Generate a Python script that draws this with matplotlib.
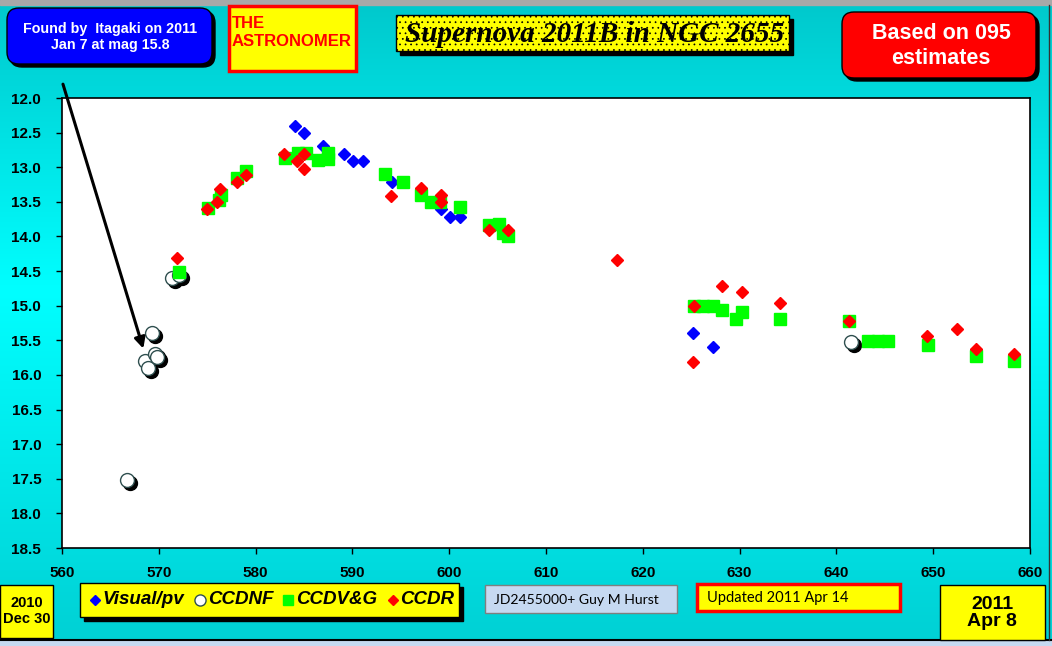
import matplotlib
matplotlib.use("Agg")
import matplotlib.pyplot as plt
import matplotlib.transforms as mtransforms
from matplotlib.patches import FancyBboxPatch, Rectangle
from matplotlib.colors import LinearSegmentedColormap
import numpy as np

# JD - 2455000, magnitude
visual_x = [584.1, 585.0, 587.0, 589.1, 590.1, 591.1, 594.1, 599.2, 600.1, 601.1, 625.2, 627.3]
visual_y = [12.40, 12.50, 12.69, 12.81, 12.91, 12.91, 13.21, 13.60, 13.72, 13.72, 15.40, 15.60]

ccdnf_x = [566.7, 568.6, 568.9, 569.3, 569.6, 569.8, 571.4, 572.1, 641.5]
ccdnf_y = [17.52, 15.80, 15.90, 15.40, 15.70, 15.74, 14.60, 14.55, 15.52]

ccdvg_x = [572.1, 575.1, 576.2, 576.4, 578.1, 579.0, 583.0, 584.4, 585.2, 586.4, 587.5, 587.5,
           593.4, 595.2, 597.1, 598.1, 599.0, 601.1, 604.1, 605.1, 605.6, 606.1,
           625.3, 626.2, 627.3, 628.2, 629.6, 630.2, 634.2, 641.3, 643.3, 644.3, 645.3,
           649.5, 654.4, 658.3]
ccdvg_y = [14.51, 13.59, 13.47, 13.40, 13.16, 13.05, 12.87, 12.80, 12.80, 12.90, 12.80, 12.88,
           13.10, 13.21, 13.40, 13.50, 13.50, 13.57, 13.83, 13.82, 13.95, 14.00,
           15.00, 15.00, 15.00, 15.06, 15.19, 15.09, 15.19, 15.22, 15.51, 15.51, 15.51,
           15.57, 15.72, 15.80]

ccdr_x = [571.9, 575.0, 576.0, 576.3, 578.1, 579.0, 582.9, 584.3, 585.0, 585.0, 594.0, 597.1,
          599.2, 599.2, 604.1, 606.1, 617.3, 625.2, 625.3, 628.2, 630.2, 634.2, 641.3,
          649.4, 652.5, 654.4, 658.3]
ccdr_y = [14.31, 13.60, 13.50, 13.31, 13.21, 13.11, 12.81, 12.91, 12.81, 13.02, 13.42, 13.30,
          13.40, 13.50, 13.90, 13.90, 14.34, 15.81, 15.00, 14.72, 14.80, 14.96, 15.22,
          15.44, 15.34, 15.63, 15.70]

x_ticks = list(range(560, 661, 10))
y_ticks = [12.0 + 0.5 * i for i in range(14)]

W, H = 1052, 646
SANS = ["Liberation Sans", "DejaVu Sans"]

fig = plt.figure(figsize=(W / 100, H / 100), dpi=100)

# background layer in pixel coordinates (y down)
bg = fig.add_axes([0, 0, 1, 1])
bg.set_xlim(0, W)
bg.set_ylim(H, 0)
bg.axis("off")
cmap = LinearSegmentedColormap.from_list(
    "turq", [(0, "#00C8CC"), (0.45, "#00FFFF"), (1, "#00D0D4")])
grad = np.linspace(0, 1, 256).reshape(-1, 1)
bg.imshow(grad, cmap=cmap, extent=[0, W, H, 0], aspect="auto", zorder=0)
bg.add_patch(Rectangle((0, 0), W, 5, color="#A8A8A8", zorder=1))
bg.add_patch(Rectangle((0, 640), W, 6, color="#C6D9F0", zorder=1))
bg.plot([0, W], [639.5, 639.5], color="black", lw=1.5, zorder=2)
bg.plot([1048.5, 1048.5], [5, 640], color="#333333", lw=1, zorder=2)


def box(x0, y0, x1, y1, fc, ec="black", lw=1.0, rnd=0, shadow=0, hatch=None):
    style = f"round,pad=0,rounding_size={rnd}" if rnd else "square,pad=0"
    if shadow:
        bg.add_patch(FancyBboxPatch((x0 + shadow, y0 + shadow), x1 - x0, y1 - y0,
                                    boxstyle=style, fc="black", ec="black", lw=lw, zorder=3))
    bg.add_patch(FancyBboxPatch((x0, y0), x1 - x0, y1 - y0, boxstyle=style,
                                fc=fc, ec=ec, lw=lw, hatch=hatch, zorder=4))


# top boxes
box(7, 8, 212, 64, "#0000FF", rnd=12, shadow=3)
bg.text(110, 37, "Found by  Itagaki on 2011\nJan 7 at mag 15.8", color="white",
        fontsize=10.3, fontweight="bold", family=SANS, ha="center", va="center",
        linespacing=1.25, zorder=5)

box(229, 6, 356, 71, "#FFFF00", ec="#FF0000", lw=2.5)
bg.text(232, 33, "THE\nASTRONOMER", color="#FF0000", fontsize=12, fontweight="bold",
        family=SANS, ha="left", va="center", linespacing=1.25, zorder=5)

plt.rcParams["hatch.linewidth"] = 0.5
box(396, 15, 789, 51, "#FFFF00", ec="black", lw=1, shadow=4, hatch="...")
bg.text(595, 35, "Supernova 2011B in NGC 2655", color="black", fontsize=21,
        fontweight="bold", style="italic", family=["Liberation Serif", "DejaVu Serif"],
        ha="center", va="center", zorder=5)

box(842, 12, 1036, 78, "#FF0000", rnd=12, shadow=3)
bg.text(941, 46, "Based on 095\nestimates", color="white", fontsize=15.5,
        fontweight="bold", family=SANS, ha="center", va="center", linespacing=1.3,
        zorder=5)

# bottom boxes
box(0, 585, 53, 638, "#FFFF00")
bg.text(27, 611, "2010\nDec 30", fontsize=10.5, fontweight="bold", family=SANS,
        ha="center", va="center", linespacing=1.25, zorder=5)

box(80, 583, 459, 617, "#FFFF00", shadow=4)
leg_font = dict(fontsize=13.5, fontweight="bold", style="italic", family=SANS,
                va="center", ha="left", zorder=6)
bg.plot(95, 600, marker="D", ms=5.5, color="#0000FF", ls="none", zorder=6)
bg.text(102, 600, "Visual/pv", **leg_font)
bg.plot(200, 600, marker="o", ms=8, mfc="white", mec="#2F4F4F", ls="none", zorder=6)
bg.text(208, 600, "CCDNF", **leg_font)
bg.plot(288, 600, marker="s", ms=7, color="#00FF00", ls="none", zorder=6)
bg.text(296, 600, "CCDV&G", **leg_font)
bg.plot(393, 600, marker="D", ms=5.5, color="#FF0000", ls="none", zorder=6)
bg.text(400, 600, "CCDR", **leg_font)

box(485, 585, 677, 613, "#C6D9F1", ec="#7F7F7F")
bg.text(494, 600, "JD2455000+ Guy M Hurst", fontsize=10.1, family=["Lato", "DejaVu Sans"],
        ha="left", va="center", zorder=5)

box(697, 584, 900, 611, "#FFFF00", ec="#FF0000", lw=2.5)
bg.text(707, 598, "Updated 2011 Apr 14", fontsize=10.5, family=["Lato", "DejaVu Sans"],
        ha="left", va="center", zorder=5)

box(940, 585, 1045, 640, "#FFFF00")
bg.text(992, 613, "2011\nApr 8", fontsize=14, fontweight="bold", family=SANS,
        ha="center", va="center", linespacing=1.05, zorder=5)

# main plot area
ax = fig.add_axes([62 / W, 1 - 548 / H, 968 / W, 450 / H])
ax.set_facecolor("white")
ax.set_xlim(560, 660)
ax.set_ylim(18.5, 12.0)
ax.set_xticks(x_ticks)
ax.set_yticks(y_ticks)
ax.set_xticklabels([str(v) for v in x_ticks], fontsize=11, fontweight="bold", family=SANS)
ax.set_yticklabels([f"{v:.1f}" for v in y_ticks], fontsize=11, fontweight="bold", family=SANS)
ax.tick_params(direction="out", length=4, width=1)
ax.tick_params(axis="y", pad=11)
ax.tick_params(axis="x", pad=9)
for s in ax.spines.values():
    s.set_linewidth(1.2)

ax.plot(visual_x, visual_y, ls="none", marker="D", ms=6.2, color="#0000FF", zorder=3)

shadow = mtransforms.offset_copy(ax.transData, fig=fig, x=3, y=-3, units="dots")
ax.plot(ccdnf_x, ccdnf_y, ls="none", marker="o", ms=10, color="black",
        transform=shadow, zorder=3)
ax.plot(ccdnf_x, ccdnf_y, ls="none", marker="o", ms=10, mfc="white", mec="#2F4F4F",
        mew=1, zorder=4)

ax.plot(ccdvg_x, ccdvg_y, ls="none", marker="s", ms=8.6, color="#00FF00", zorder=5)
ax.plot(ccdr_x, ccdr_y, ls="none", marker="D", ms=6.2, color="#FF0000", zorder=6)

# discovery arrow
ax.annotate("", xy=(568.4, 15.62), xytext=(560.1, 11.8), annotation_clip=False,
            arrowprops=dict(arrowstyle="-|>", lw=2.2, color="black",
                            mutation_scale=16, shrinkA=0, shrinkB=0), zorder=7)

fig.savefig("out.png", dpi=100)
